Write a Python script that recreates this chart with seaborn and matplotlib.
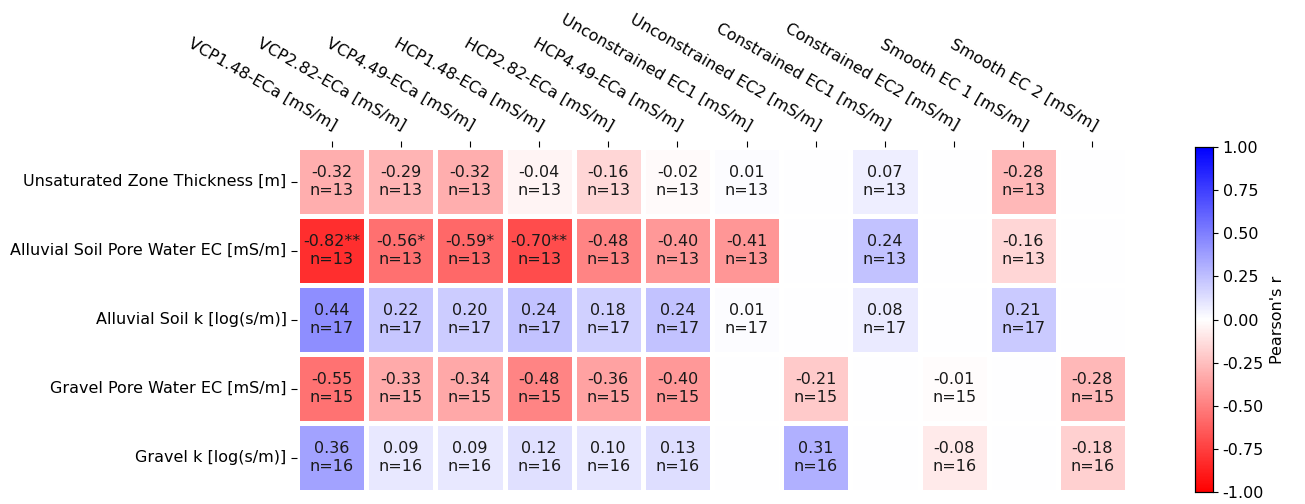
import numpy as np
import pandas as pd
import matplotlib
matplotlib.use("Agg")
import matplotlib.pyplot as plt
import seaborn as sns

# Geophysical predictors (columns) and site properties (rows)
predictors = [
    "VCP1.48-ECa [mS/m]", "VCP2.82-ECa [mS/m]", "VCP4.49-ECa [mS/m]",
    "HCP1.48-ECa [mS/m]", "HCP2.82-ECa [mS/m]", "HCP4.49-ECa [mS/m]",
    "Unconstrained EC1 [mS/m]", "Unconstrained EC2 [mS/m]",
    "Constrained EC1 [mS/m]", "Constrained EC2 [mS/m]",
    "Smooth EC 1 [mS/m]", "Smooth EC 2 [mS/m]",
]
properties = [
    "Unsaturated Zone Thickness [m]",
    "Alluvial Soil Pore Water EC [mS/m]",
    "Alluvial Soil k [log(s/m)]",
    "Gravel Pore Water EC [mS/m]",
    "Gravel k [log(s/m)]",
]

nan = np.nan
# Pearson's r per property
r_unsat = [-0.32, -0.29, -0.32, -0.04, -0.16, -0.02, 0.01, nan, 0.07, nan, -0.28, nan]
r_soil_ec = [-0.82, -0.56, -0.59, -0.70, -0.48, -0.40, -0.41, nan, 0.24, nan, -0.16, nan]
r_soil_k = [0.44, 0.22, 0.20, 0.24, 0.18, 0.24, 0.01, nan, 0.08, nan, 0.21, nan]
r_gravel_ec = [-0.55, -0.33, -0.34, -0.48, -0.36, -0.40, nan, -0.21, nan, -0.01, nan, -0.28]
r_gravel_k = [0.36, 0.09, 0.09, 0.12, 0.10, 0.13, nan, 0.31, nan, -0.08, nan, -0.18]

# sample counts per property
n_counts = [13, 13, 17, 15, 16]

# significance stars per property
stars_soil_ec = ["**", "*", "*", "**", "", "", "", "", "", "", "", ""]

r_table = pd.DataFrame(
    [r_unsat, r_soil_ec, r_soil_k, r_gravel_ec, r_gravel_k],
    index=properties, columns=predictors,
)
stars = pd.DataFrame("", index=properties, columns=predictors)
stars.loc[properties[1]] = stars_soil_ec

labels = pd.DataFrame("", index=properties, columns=predictors)
for i, prop in enumerate(properties):
    for col in predictors:
        v = r_table.loc[prop, col]
        if not np.isnan(v):
            labels.loc[prop, col] = f"{v:.2f}{stars.loc[prop, col]}\nn={n_counts[i]}"

fig = plt.figure(figsize=(13.05, 5.04), dpi=100)
ax = fig.add_axes([0.2276, 0.0238, 0.636, 0.6845])
cax = fig.add_axes([0.9157, 0.0238, 0.0138, 0.6845])

cmap = plt.get_cmap("bwr_r")
ax.set_facecolor(cmap(0.5))

sns.heatmap(
    r_table, ax=ax, cbar_ax=cax, cmap=cmap, vmin=-1, vmax=1,
    annot=labels.values, fmt="", annot_kws={"fontsize": 11.5, "color": "#1a1a1a"},
    linewidths=2.5, linecolor="white",
    cbar_kws={"label": "Pearson's r", "ticks": np.arange(-1, 1.01, 0.25)},
)

ax.xaxis.tick_top()
ax.set_xticklabels(predictors, rotation=-30, ha="right", rotation_mode="anchor",
                   fontsize=11.5)
ax.set_yticklabels(properties, rotation=0, fontsize=11.5)
ax.set_xlabel("")
ax.set_ylabel("")
ax.tick_params(axis="x", length=4, pad=6)
ax.tick_params(axis="y", length=4)

cax.tick_params(labelsize=11.5)
cax.yaxis.set_major_formatter(matplotlib.ticker.FormatStrFormatter("%.2f"))
cax.yaxis.label.set_size(11.5)
for s in cax.spines.values():
    s.set_visible(True)
    s.set_linewidth(0.8)

fig.savefig("out.png", dpi=100)
